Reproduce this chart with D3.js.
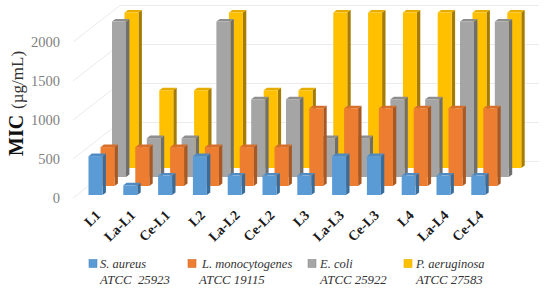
<!DOCTYPE html>
<html>
<head>
<meta charset="utf-8">
<script src="https://cdn.jsdelivr.net/npm/d3@7"></script>
<style>
  html, body { margin: 0; padding: 0; background: #fff; }
  text { font-family: "Liberation Serif", serif; }
</style>
</head>
<body>
<div id="chart-area"></div>
<script>
// Values
const categories = ["L1", "La-L1", "Ce-L1", "L2", "La-L2", "Ce-L2", "L3", "La-L3", "Ce-L3", "L4", "La-L4", "Ce-L4"];
const saureus = [500, 125, 250, 500, 250, 250, 250, 500, 500, 250, 250, 250];
const lmono = [500, 500, 500, 500, 500, 500, 1000, 1000, 1000, 1000, 1000, 1000];
const ecoli = [2000, 500, 500, 2000, 1000, 1000, 500, 500, 1000, 1000, 2000, 2000];
const paer = [2000, 1000, 1000, 2000, 1000, 1000, 2000, 2000, 2000, 2000, 2000, 2000];
const tickValues = [0, 500, 1000, 1500, 2000];

const svgWidth = 550, svgHeight = 291;
const depthDx = 47, depthDy = 36.5;  // how far the back wall sits from the axis

const seriesList = [
    { name: "P. aeruginosa", strain: "ATCC 27583", values: paer, front: "#FFC000", top: "#E6AD00", side: "#A67C00", dx: 36, dy: -27, lx: 404, tx: 416, sx: 416 },
    { name: "E. coli", strain: "ATCC 25922", values: ecoli, front: "#A5A5A5", top: "#8E8E8E", side: "#6F6F6F", dx: 23.5, dy: -18, lx: 308, tx: 320, sx: 320 },
    { name: "L. monocytogenes", strain: "ATCC 19115", values: lmono, front: "#ED7D31", top: "#D56F2B", side: "#A85820", dx: 12, dy: -9, lx: 188, tx: 202, sx: 199 },
    { name: "S. aureus", strain: "ATCC  25923", values: saureus, front: "#5B9BD5", top: "#4F8BC2", side: "#3A6C9A", dx: 0, dy: 0, lx: 89, tx: 100, sx: 100 }
];

const svg = d3.select("#chart-area").append("svg")
    .attr("width", svgWidth)
    .attr("height", svgHeight)
    .style("display", "block");

const x = d3.scaleBand().domain(categories).range([88.5, 88.5 + 34.8 * 12]);
const barWidth = 14, sideW = 3.4, sideH = 2.6;

// Value scale of the front left edge of the axis
const y = d3.scaleLinear().domain([0, 2000]).range([198, 42]);
// Height of a bar in pixels
const h = d3.scaleLinear().domain([0, 2000]).range([0, 155.5]);
const barBase = 195;

// Gridlines: side wall, then back wall
const grid = svg.append("g").attr("fill", "none").attr("stroke", "#EBEBEB").attr("stroke-width", 1);
tickValues.forEach(v => {
    const y0 = y(v);
    grid.append("path").attr("d", `M73,${y0}L${73 + depthDx},${y0 - depthDy}L539,${y0 - depthDy}`);
});

// Tick labels
const yAxis = svg.append("g")
    .attr("transform", "translate(66,0)")
    .call(d3.axisLeft(y).tickValues(tickValues).tickSize(0).tickPadding(6).tickFormat(d3.format("d")));
yAxis.select(".domain").remove();
yAxis.selectAll("text")
    .style("font-family", '"Liberation Serif", serif')
    .style("font-size", "14.5px")
    .attr("fill", "#7F7F7F");

// Bars, back series first so the front ones cover them
seriesList.forEach(s => {
    const g = svg.append("g");
    s.values.forEach((v, i) => {
        const x0 = x(categories[i]) + s.dx;
        const base = barBase + s.dy;
        const yTop = base - h(v);
        const x1 = x0 + barWidth;
        g.append("path").attr("fill", s.side)
            .attr("d", `M${x1},${yTop}L${x1 + sideW},${yTop - sideH}L${x1 + sideW},${base - sideH}L${x1},${base}Z`);
        g.append("path").attr("fill", s.top)
            .attr("d", `M${x0},${yTop}L${x0 + sideW},${yTop - sideH}L${x1 + sideW},${yTop - sideH}L${x1},${yTop}Z`);
        g.append("rect").attr("fill", s.front)
            .attr("x", x0).attr("y", yTop).attr("width", barWidth).attr("height", h(v));
    });
});

// Category labels, rotated
svg.append("g").selectAll("text")
    .data(categories)
    .join("text")
    .attr("transform", d => `translate(${x(d) + 8},211) rotate(-45)`)
    .attr("text-anchor", "end")
    .attr("dy", "0.5em")
    .attr("font-size", "14px")
    .attr("font-weight", "bold")
    .attr("fill", "#1A1A1A")
    .text(d => d);

// Y axis title
const title = svg.append("text")
    .attr("transform", "translate(23,156) rotate(-90)")
    .attr("fill", "#111");
title.append("tspan").attr("font-weight", "bold").attr("font-size", "20px").text("MIC");
title.append("tspan").attr("font-size", "17px").attr("fill", "#333").attr("dx", "6").text("(µg/mL)");

// Legend
const legend = svg.append("g");
seriesList.forEach(s => {
    legend.append("rect")
        .attr("x", s.lx).attr("y", 259.5).attr("width", 8).attr("height", 8)
        .attr("fill", s.front).attr("stroke", s.top).attr("stroke-width", 0.6);
    legend.append("text").attr("x", s.tx).attr("y", 267.5)
        .attr("font-size", "12.5px").attr("font-style", "italic").attr("fill", "#333").text(s.name);
    legend.append("text").attr("x", s.sx).attr("y", 284)
        .attr("font-size", "12.8px").attr("font-style", "italic").attr("fill", "#333")
        .style("white-space", "pre").text(s.strain);
});
</script>
</body>
</html>
